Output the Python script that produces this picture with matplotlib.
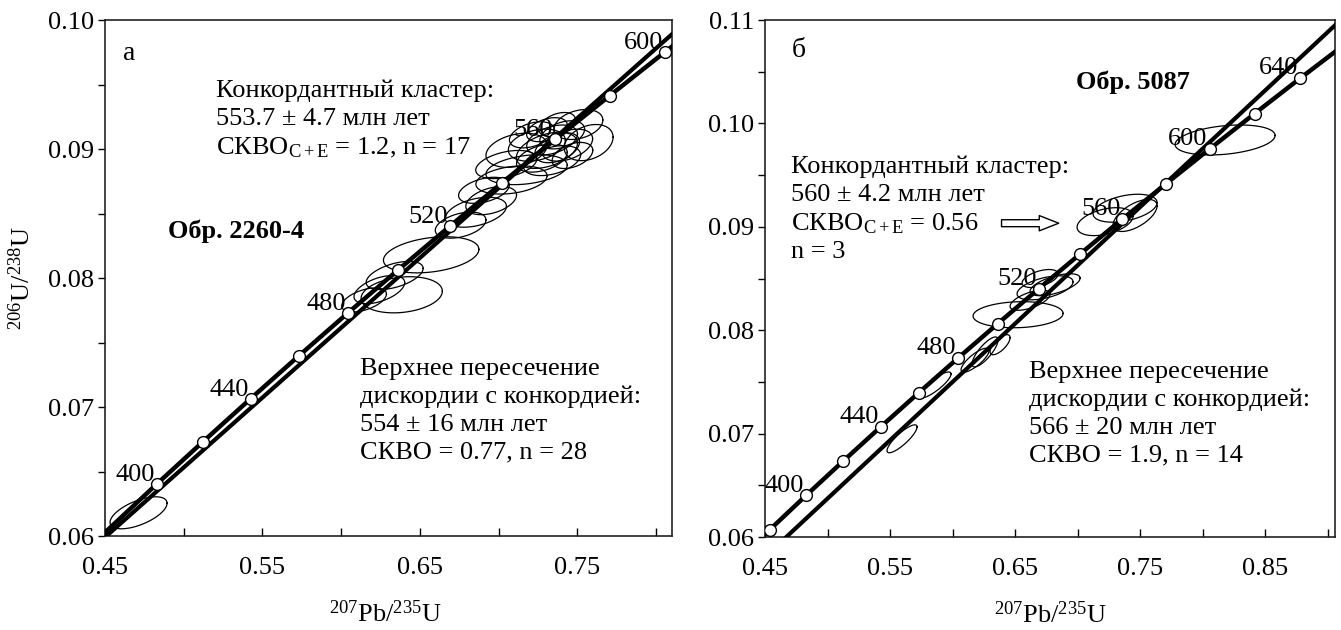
import numpy as np
import matplotlib
matplotlib.use("Agg")
import matplotlib.pyplot as plt

plt.rcParams['font.family'] = ['Liberation Serif', 'DejaVu Serif']
plt.rcParams['mathtext.fontset'] = 'custom'
plt.rcParams['mathtext.rm'] = 'Liberation Serif'
plt.rcParams['mathtext.it'] = 'Liberation Serif:italic'
plt.rcParams['mathtext.bf'] = 'Liberation Serif:bold'
plt.rcParams['font.size'] = 19

# concordia points (age, 207Pb/235U, 206Pb/238U)
conc_age = [360, 380, 400, 420, 440, 460, 480, 500, 520, 540, 560, 580, 600, 620, 640, 660]
conc_x = [0.4255, 0.4539, 0.4828, 0.5123, 0.5424, 0.5731, 0.6043, 0.6363, 0.6689,
          0.7021, 0.7359, 0.7705, 0.8057, 0.8416, 0.8782, 0.9155]
conc_y = [0.05743, 0.06072, 0.06402, 0.06732, 0.07064, 0.07397, 0.07730, 0.08065, 0.08401,
          0.08738, 0.09076, 0.09414, 0.09754, 0.10095, 0.10438, 0.10781]

# --- panel a (Obr. 2260-4)
a_marks = [400, 420, 440, 460, 480, 500, 520, 540, 560, 580, 600]
a_labels = [400, 440, 480, 520, 560, 600]
a_disc_x = [0.45, 0.81]
a_disc_y = [0.0599, 0.0989]
a_ex = [0.4713, 0.6384, 0.6571, 0.6242, 0.6339, 0.6145, 0.6855, 0.6952, 0.6906, 0.7081,
        0.7177, 0.7113, 0.7242, 0.7306, 0.7339, 0.7371, 0.7274, 0.7403, 0.7435, 0.7506,
        0.7571, 0.7210, 0.7339, 0.7306, 0.7048, 0.6758, 0.7468, 0.7371]
a_ey = [0.0618, 0.0787, 0.0818, 0.0791, 0.0802, 0.0783, 0.0851, 0.0860, 0.0868, 0.0876,
        0.0884, 0.0899, 0.0903, 0.0899, 0.0907, 0.0901, 0.0893, 0.0911, 0.0903, 0.0919,
        0.0905, 0.0911, 0.0891, 0.0915, 0.0888, 0.0841, 0.0895, 0.0919]
a_sx = [0.0181, 0.0258, 0.0303, 0.0161, 0.0181, 0.0142, 0.0194, 0.0161, 0.0161, 0.0226,
        0.0258, 0.0194, 0.0181, 0.0194, 0.0161, 0.0142, 0.0161, 0.0142, 0.0161, 0.0155,
        0.0155, 0.0142, 0.0181, 0.0129, 0.0194, 0.0161, 0.0129, 0.0116]
a_sy = [0.00124, 0.00140, 0.00140, 0.00109, 0.00109, 0.00093, 0.00116, 0.00109, 0.00101, 0.00109,
        0.00116, 0.00132, 0.00124, 0.00140, 0.00116, 0.00116, 0.00109, 0.00109, 0.00124, 0.00116,
        0.00140, 0.00101, 0.00116, 0.00093, 0.00109, 0.00101, 0.00101, 0.00093]
a_rho = [0.6, 0.2, 0.3, 0.5, 0.5, 0.5, 0.4, 0.4, 0.4, 0.3,
         0.3, 0.3, 0.3, 0.4, 0.4, 0.4, 0.4, 0.4, 0.4, 0.3,
         0.3, 0.4, 0.4, 0.4, 0.4, 0.4, 0.4, 0.4]

# --- panel b (Obr. 5087)
b_marks = [380, 400, 420, 440, 460, 480, 500, 520, 540, 560, 580, 600, 620, 640]
b_labels = [400, 440, 480, 520, 560, 600, 640]
b_disc_x = [0.467, 0.906]
b_disc_y = [0.0600, 0.1095]
b_ex = [0.818, 0.738, 0.722, 0.746, 0.674, 0.682, 0.6524, 0.626, 0.638, 0.618, 0.586, 0.5596, 0.670, 0.662]
b_ey = [0.0984, 0.0918, 0.0905, 0.0911, 0.0841, 0.0844, 0.0815, 0.0779, 0.0786, 0.0771, 0.0747, 0.0695, 0.0850, 0.0829]
b_sx = [0.040, 0.0256, 0.0224, 0.0176, 0.0224, 0.020, 0.036, 0.0104, 0.008, 0.0112, 0.0128, 0.012, 0.0144, 0.016]
b_sy = [0.00145, 0.00135, 0.00135, 0.00155, 0.00116, 0.00106, 0.00126, 0.00145, 0.00097, 0.00116, 0.00126, 0.00135, 0.00087, 0.00097]
b_rho = [0.3, 0.4, 0.4, 0.6, 0.5, 0.6, 0.1, 0.8, 0.7, 0.8, 0.85, 0.85, 0.5, 0.6]

xticks_a = [0.45, 0.55, 0.65, 0.75]
xminor_a = [0.50, 0.60, 0.70, 0.80]
yticks_a = [0.06, 0.07, 0.08, 0.09, 0.10]
yminor_a = [0.065, 0.075, 0.085, 0.095]
xticks_b = [0.45, 0.55, 0.65, 0.75, 0.85]
xminor_b = [0.50, 0.60, 0.70, 0.80, 0.90]
yticks_b = [0.06, 0.07, 0.08, 0.09, 0.10, 0.11]
yminor_b = [0.065, 0.075, 0.085, 0.095, 0.105]


def draw_ellipses(ax, ex, ey, sx, sy, rho):
    t = np.linspace(0, 2 * np.pi, 120)
    for i in range(len(ex)):
        xx = ex[i] + sx[i] * np.cos(t)
        yy = ey[i] + sy[i] * (rho[i] * np.cos(t) + np.sqrt(1 - rho[i] ** 2) * np.sin(t))
        ax.plot(xx, yy, color="k", lw=0.9, zorder=2)


def draw_concordia(ax, marks, labels, dx, dy):
    ax.plot(conc_x, conc_y, color="k", lw=3.2, zorder=3, solid_capstyle="butt")
    mx = [conc_x[conc_age.index(a)] for a in marks]
    my = [conc_y[conc_age.index(a)] for a in marks]
    ax.plot(mx, my, "o", ms=8.5, mfc="white", mec="k", mew=1.0, zorder=5)
    for a in labels:
        i = conc_age.index(a)
        ax.annotate(str(a), (conc_x[i], conc_y[i]), xytext=(dx, dy), textcoords="offset points",
                    ha="right", va="center", fontsize=19, zorder=6)


def style_axis(ax, xt, xm, yt, ym, xlim, ylim):
    ax.set_xlim(xlim)
    ax.set_ylim(ylim)
    ax.set_xticks(xt)
    ax.set_xticks(xm, minor=True)
    ax.set_xticklabels(["%.2f" % v for v in xt])
    ax.set_yticks(yt)
    ax.set_yticks(ym, minor=True)
    ax.set_yticklabels(["%.2f" % v for v in yt])
    ax.tick_params(axis="x", which="both", direction="in", length=6, width=1, pad=15, labelsize=19)
    ax.tick_params(axis="y", which="both", direction="out", length=5, width=1, pad=3, labelsize=19)
    for s in ax.spines.values():
        s.set_linewidth(1.2)
        s.set_color("#222222")


fig = plt.figure(figsize=(13.41, 6.3), dpi=100)
ax1 = fig.add_axes([0.0783, 0.1492, 0.4228, 0.8190])
ax2 = fig.add_axes([0.5705, 0.1476, 0.4251, 0.8206])

# panel a
draw_ellipses(ax1, a_ex, a_ey, a_sx, a_sy, a_rho)
ax1.plot(a_disc_x, a_disc_y, color="k", lw=3.0, zorder=3)
draw_concordia(ax1, a_marks, a_labels, -1.5, 6.5)
style_axis(ax1, xticks_a, xminor_a, yticks_a, yminor_a, (0.45, 0.81), (0.06, 0.10))

ax1.text(0.032, 0.935, "а", transform=ax1.transAxes, ha="left", va="center", fontsize=20)
ax1.text(0.196, 0.884, "Конкордантный кластер:\n553.7 ± 4.7 млн лет\nСКВО$_{\\mathrm{C+E}}$ = 1.2, n = 17",
         transform=ax1.transAxes, ha="left", va="top", linespacing=1.32)
ax1.text(0.111, 0.590, "Обр. 2260-4", transform=ax1.transAxes, ha="left", va="center",
         fontweight="bold")
ax1.text(0.450, 0.345, "Верхнее пересечение\nдискордии с конкордией:\n554 ± 16 млн лет\nСКВО = 0.77, n = 28",
         transform=ax1.transAxes, ha="left", va="top", linespacing=1.32)
ax1.set_xlabel(r"$^{207}$Pb/$^{235}$U", fontsize=19)
ax1.xaxis.set_label_coords(0.494, -0.124)
ax1.set_ylabel(r"$^{206}$U/$^{238}$U", fontsize=19)
ax1.yaxis.set_label_coords(-0.123, 0.5)

# panel b
draw_ellipses(ax2, b_ex, b_ey, b_sx, b_sy, b_rho)
ax2.plot(b_disc_x, b_disc_y, color="k", lw=3.0, zorder=3)
draw_concordia(ax2, b_marks, b_labels, -1.5, 7)
style_axis(ax2, xticks_b, xminor_b, yticks_b, yminor_b, (0.45, 0.906), (0.06, 0.11))

ax2.text(0.046, 0.942, "б", transform=ax2.transAxes, ha="left", va="center", fontsize=20)
ax2.text(0.546, 0.880, "Обр. 5087", transform=ax2.transAxes, ha="left", va="center",
         fontweight="bold")
ax2.text(0.046, 0.737, "Конкордантный кластер:\n560 ± 4.2 млн лет\nСКВО$_{\\mathrm{C+E}}$ = 0.56\nn = 3",
         transform=ax2.transAxes, ha="left", va="top", linespacing=1.30)
ax2.text(0.463, 0.340, "Верхнее пересечение\nдискордии с конкордией:\n566 ± 20 млн лет\nСКВО = 1.9, n = 14",
         transform=ax2.transAxes, ha="left", va="top", linespacing=1.32)
ax2.annotate("", xy=(0.52, 0.607), xytext=(0.41, 0.607), xycoords="axes fraction",
             arrowprops=dict(arrowstyle="simple,head_length=0.7,head_width=0.55,tail_width=0.25",
                             fc="white", ec="black", lw=1, mutation_scale=20))
ax2.set_xlabel(r"$^{207}$Pb/$^{235}$U", fontsize=19)
ax2.xaxis.set_label_coords(0.5, -0.124)

fig.savefig("out.png", dpi=100)
